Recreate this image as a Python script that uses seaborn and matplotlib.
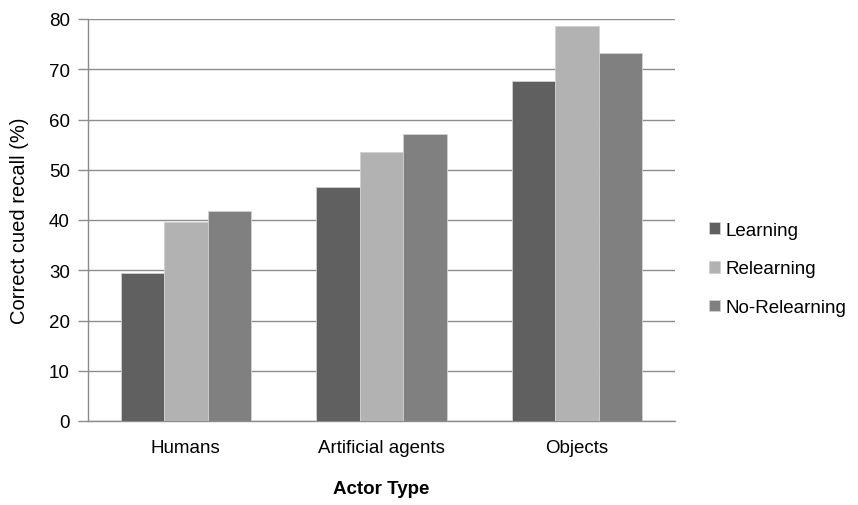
import matplotlib
matplotlib.use("Agg")
import matplotlib.pyplot as plt
import seaborn as sns
import pandas as pd

actor_types = ["Humans", "Artificial agents", "Objects"]
conditions = ["Learning", "Relearning", "No-Relearning"]
learning = [29.5, 46.5, 67.7]
relearning = [39.7, 53.5, 78.6]
no_relearning = [41.7, 57.1, 73.2]
y_ticks = [0, 10, 20, 30, 40, 50, 60, 70, 80]

df = pd.DataFrame({
    "Actor Type": actor_types * 3,
    "Condition": [c for c in conditions for _ in actor_types],
    "Recall": learning + relearning + no_relearning,
})

GRID = "#8c8c8c"
sns.set_theme(style="ticks", rc={
    "text.color": "black",
    "axes.labelcolor": "black",
    "xtick.color": "black",
    "ytick.color": GRID,
    "ytick.labelcolor": "black",
    "ytick.left": True,
    "ytick.major.size": 7,
    "ytick.major.width": 1,
    "ytick.direction": "out",
})
plt.rcParams["font.family"] = ["Liberation Sans", "DejaVu Sans"]

FS = 13.5

fig = plt.figure(figsize=(8.58, 5.06), dpi=100)
ax = fig.add_axes([88 / 858, 1 - 422 / 506, 587 / 858, 402 / 506])

palette = {"Learning": "#606060", "Relearning": "#b2b2b2", "No-Relearning": "#808080"}
sns.barplot(data=df, x="Actor Type", y="Recall", hue="Condition",
            hue_order=conditions, order=actor_types, palette=palette,
            width=0.665, saturation=1, edgecolor="#d0d0d0", linewidth=0.6,
            ax=ax, zorder=3)

ax.set_ylim(0, 80)
ax.set_yticks(y_ticks)
ax.set_yticklabels([str(t) for t in y_ticks], fontsize=FS)
ax.set_xlim(-0.5, 2.5)
ax.tick_params(axis="x", labelsize=FS, length=0, pad=13, bottom=False)
ax.tick_params(axis="y", which="major", length=7, width=1, color=GRID,
               direction="out", left=True, pad=6, labelcolor="black")
ax.yaxis.grid(True, color=GRID, linewidth=1, zorder=0)
ax.set_axisbelow(True)
for side in ["top", "right"]:
    ax.spines[side].set_visible(False)
for side in ["left", "bottom"]:
    ax.spines[side].set_color(GRID)
    ax.spines[side].set_linewidth(1)

ax.set_ylabel("Correct cued recall (%)", fontsize=14.5, labelpad=14)
ax.set_xlabel("Actor Type", fontsize=FS, fontweight="bold", labelpad=17)

handles, labels = ax.get_legend_handles_labels()
ax.legend_.remove()
fig.legend(handles, labels, loc="center left", bbox_to_anchor=(692 / 858, 1 - 270 / 506),
           frameon=False, fontsize=FS, handlelength=0.6, handleheight=0.6,
           handletextpad=0.3, labelspacing=1.15)

fig.savefig("out.png", dpi=100)
